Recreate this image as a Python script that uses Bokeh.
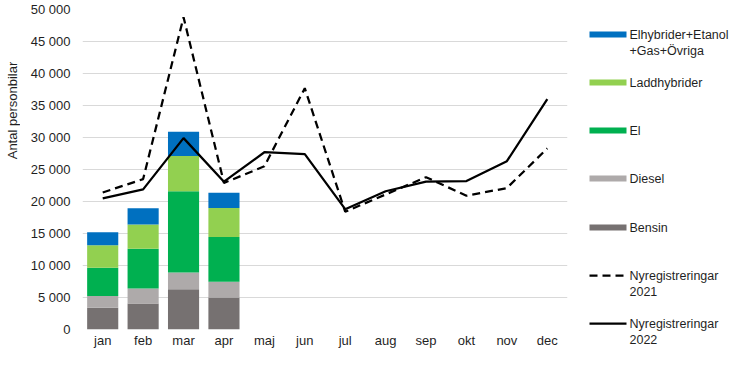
from math import pi
from bokeh.plotting import figure
from bokeh.models import ColumnDataSource, Range1d, FixedTicker
from bokeh.layouts import row
from bokeh.core.properties import value
from bokeh.embed import file_html
from bokeh.resources import INLINE

# ---- data ----
months = ["jan", "feb", "mar", "apr", "maj", "jun", "jul", "aug", "sep", "okt", "nov", "dec"]
bar_months = ["jan", "feb", "mar", "apr"]
bensin = [3400, 4050, 6300, 5000]
diesel = [1850, 2350, 2600, 2450]
el = [4400, 6200, 12700, 7000]
laddhybrider = [3500, 3800, 5500, 4550]
ovriga = [2050, 2550, 3800, 2350]
reg2021 = [21400, 23500, 48800, 22900, 25500, 37700, 18400, 21100, 23800, 20900, 22100, 28300]
reg2022 = [20500, 21900, 29900, 23100, 27700, 27400, 18800, 21600, 23100, 23200, 26300, 36000]
y_ticks = [0, 5000, 10000, 15000, 20000, 25000, 30000, 35000, 40000, 45000, 50000]
y_label = "Antal personbilar"

series_names = ["Bensin", "Diesel", "El", "Laddhybrider", "Övriga"]
series_colors = ["#767171", "#aeaaaa", "#00b050", "#92d050", "#0070c0"]
legend_labels = [["Elhybrider+Etanol", "+Gas+Övriga"], ["Laddhybrider"], ["El"], ["Diesel"], ["Bensin"],
                 ["Nyregistreringar", "2021"], ["Nyregistreringar", "2022"]]

FONT = "Liberation Sans"
TXT = "#1f1f1f"
H = 350

src = ColumnDataSource(dict(month=bar_months, Bensin=bensin, Diesel=diesel, El=el,
                            Laddhybrider=laddhybrider, **{"Övriga": ovriga}))


def strip(width):
    f = figure(width=width, height=H, x_range=Range1d(0, width), y_range=Range1d(H, 0),
               output_backend="svg", toolbar_location=None,
               min_border_left=0, min_border_right=0, min_border_top=0, min_border_bottom=0)
    f.axis.visible = False
    f.grid.visible = False
    f.outline_line_color = None
    return f


# ---- y-axis title strip ----
yl = strip(20)
yl.text([12], [110], text=[y_label], angle=pi / 2, text_align="center", text_baseline="middle",
        text_font=value(FONT), text_font_size="13px", text_color=TXT)

# ---- main chart ----
p = figure(x_range=months, y_range=Range1d(0, 50000), width=548, height=H,
           output_backend="svg", toolbar_location=None,
           min_border_left=62, min_border_right=1, min_border_top=9, min_border_bottom=21)
p.outline_line_color = None
p.xgrid.grid_line_color = None
p.ygrid.grid_line_color = "#d9d9d9"
p.ygrid.grid_line_width = 1

p.vbar_stack(series_names, x="month", width=0.77, color=series_colors, source=src, line_color=None)

p.line(months, reg2021, line_color="black", line_width=2.25, line_dash="8 5")
p.line(months, reg2022, line_color="black", line_width=2.25)

p.yaxis.ticker = FixedTicker(ticks=y_ticks)
p.yaxis.major_label_overrides = {t: f"{t:,}".replace(",", " ") for t in y_ticks}
for ax in (p.xaxis[0], p.yaxis[0]):
    ax.axis_line_color = None
    ax.major_tick_line_color = None
    ax.minor_tick_line_color = None
    ax.major_tick_out = 0
    ax.major_tick_in = 0
    ax.major_label_text_font = FONT
    ax.major_label_text_font_size = "13px"
    ax.major_label_text_color = TXT
p.yaxis.major_label_standoff = 12
p.xaxis.major_label_standoff = 3

# ---- legend strip ----
lg = strip(162)
item_y = [34, 82, 130, 178, 227, 275, 323]
glyph_colors = series_colors[::-1]
for i, yy in enumerate(item_y):
    if i < 5:
        lg.line([21, 58], [yy, yy], line_color=glyph_colors[i], line_width=6)
    elif i == 5:
        lg.line([21, 58], [yy, yy], line_color="black", line_width=2.25, line_dash="8 5")
    else:
        lg.line([21, 58], [yy, yy], line_color="black", line_width=2.25)
    lines = legend_labels[i]
    lg.text([61] * len(lines), [yy + 16 * k for k in range(len(lines))], text=lines,
            text_font=value(FONT), text_font_size="12.5px", text_color=TXT,
            text_baseline="middle", text_align="left")

for f in (yl, p, lg):
    if "frame_align" in f.properties():
        f.frame_align = False

layout = row(yl, p, lg)
open("out.html", "w").write(file_html(layout, INLINE))
